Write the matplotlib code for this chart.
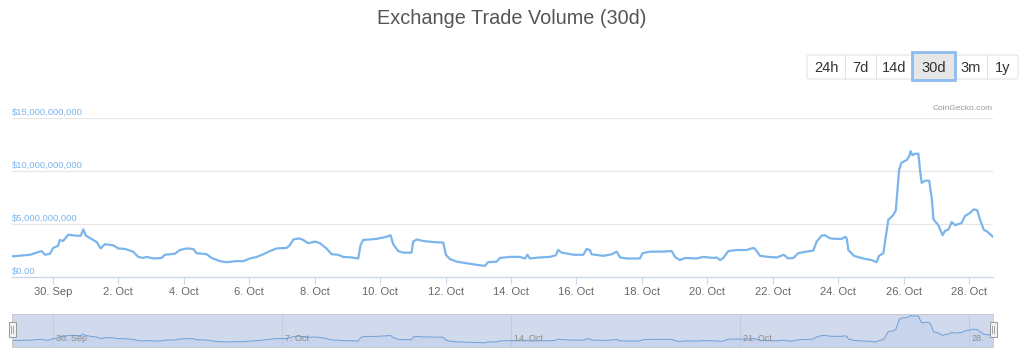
import matplotlib
matplotlib.use('Agg')
import matplotlib.pyplot as plt
from matplotlib.patches import Rectangle, FancyBboxPatch

plt.rcParams['font.family'] = ['Liberation Sans', 'DejaVu Sans']

# Données : jours depuis le 30 sept. 00:00, volume en milliards de $
days = [-1.25, -0.70, -0.35, -0.24, -0.09, 0.01, 0.16, 0.21, 0.31, 0.47, 0.72, 0.85, 0.93,
        1.01, 1.18, 1.34, 1.46, 1.59, 1.84, 2.00, 2.20, 2.45, 2.61, 2.76, 2.86, 3.09,
        3.32, 3.42, 3.73, 3.88, 4.09, 4.29, 4.39, 4.70, 4.85, 5.10, 5.31, 5.61, 5.82,
        6.02, 6.23, 6.43, 6.63, 6.84, 7.14, 7.24, 7.35, 7.53, 7.65, 7.80, 8.01, 8.16,
        8.36, 8.52, 8.72, 8.87, 9.13, 9.33, 9.40, 9.48, 9.89, 10.20, 10.32, 10.40,
        10.55, 10.71, 10.96, 11.01, 11.12, 11.32, 11.64, 11.93, 12.01, 12.13, 12.34,
        12.64, 12.95, 13.20, 13.30, 13.56, 13.66, 13.97, 14.27, 14.43, 14.50, 14.58,
        14.88, 15.19, 15.37, 15.44, 15.55, 15.92, 16.21, 16.31, 16.41, 16.46, 16.82,
        17.08, 17.23, 17.33, 17.53, 17.94, 18.02, 18.25, 18.65, 18.91, 19.01, 19.16,
        19.32, 19.67, 19.87, 20.20, 20.28, 20.39, 20.49, 20.64, 20.90, 21.20, 21.35,
        21.42, 21.51, 21.61, 21.86, 22.12, 22.34, 22.47, 22.63, 22.78, 23.03, 23.24,
        23.34, 23.49, 23.59, 23.75, 23.95, 24.10, 24.21, 24.26, 24.31, 24.48, 24.76,
        25.02, 25.17, 25.25, 25.38, 25.46, 25.53, 25.68, 25.76, 25.86, 25.93, 26.09,
        26.17, 26.21, 26.27, 26.34, 26.45, 26.50, 26.55, 26.65, 26.78, 26.86, 26.91,
        27.06, 27.19, 27.26, 27.37, 27.47, 27.57, 27.77, 27.87, 28.02, 28.15, 28.25,
        28.33, 28.45, 28.55, 28.73]
volume_bn = [1.95, 2.1, 2.45, 2.1, 2.2, 2.75, 2.95, 3.5, 3.4, 4.0, 3.9, 3.9, 4.5,
             3.9, 3.6, 3.3, 2.7, 3.1, 3.0, 2.7, 2.65, 2.4, 1.9, 1.8, 1.9, 1.75,
             1.8, 2.1, 2.2, 2.55, 2.7, 2.65, 2.25, 2.15, 1.8, 1.5, 1.4, 1.5, 1.5,
             1.75, 1.9, 2.15, 2.45, 2.7, 2.75, 3.0, 3.55, 3.65, 3.5, 3.2, 3.35, 3.2,
             2.7, 2.15, 2.1, 1.9, 1.85, 1.75, 3.0, 3.5, 3.6, 3.8, 3.95, 3.1,
             2.45, 2.3, 2.3, 3.35, 3.55, 3.4, 3.3, 3.25, 2.1, 1.7, 1.45,
             1.3, 1.15, 1.05, 1.4, 1.45, 1.8, 1.9, 1.9, 1.75, 2.1, 1.75,
             1.85, 1.9, 2.05, 2.55, 2.3, 2.1, 2.1, 2.65, 2.55, 2.15, 2.0,
             2.15, 2.4, 1.85, 1.75, 1.75, 2.25, 2.4, 2.4, 2.45, 1.9, 1.6,
             1.8, 1.75, 1.9, 1.8, 1.85, 1.6, 1.8, 2.45, 2.55, 2.55, 2.7,
             2.75, 2.45, 2.0, 1.9, 1.85, 2.1, 1.75, 1.8, 2.25, 2.4, 2.5,
             3.35, 3.9, 3.95, 3.65, 3.6, 3.6, 3.8, 3.65, 2.55, 2.0, 1.75,
             1.6, 1.4, 2.0, 2.25, 3.95, 5.4, 5.85, 6.3, 10.1, 10.8, 11.05,
             11.4, 11.9, 11.5, 11.65, 11.65, 10.1, 8.9, 9.1, 9.1, 7.4, 5.45,
             4.9, 3.95, 4.35, 4.5, 5.2, 4.9, 5.1, 5.75, 6.05, 6.4, 6.3,
             5.45, 4.45, 4.3, 3.8]

tick_days = [0, 2, 4, 6, 8, 10, 12, 14, 16, 18, 20, 22, 24, 26, 28]
tick_labels = ['30. Sep', '2. Oct', '4. Oct', '6. Oct', '8. Oct', '10. Oct', '12. Oct',
               '14. Oct', '16. Oct', '18. Oct', '20. Oct', '22. Oct', '24. Oct',
               '26. Oct', '28. Oct']
y_ticks = [0, 5, 10, 15]
y_labels = ['$0.00', '$5,000,000,000', '$10,000,000,000', '$15,000,000,000']
nav_days = [0, 7, 14, 21, 28]
nav_labels = ['30. Sep', '7. Oct', '14. Oct', '21. Oct', '28.']
buttons = ['24h', '7d', '14d', '30d', '3m', '1y']
selected = '30d'

W, H = 1024, 361
fig = plt.figure(figsize=(W / 100, H / 100), dpi=100)


def fx(px):
    return px / W


def fy(py):
    return 1 - py / H


x_min, x_max = -1.25, 28.73
line_col = '#7cb5ec'

# Graphique principal
ax = fig.add_axes([fx(12), fy(277), fx(993) - fx(12), fy(118.3) - fy(277)])
ax.plot(days, volume_bn, color=line_col, lw=1.6, solid_joinstyle='round')
ax.set_xlim(x_min, x_max)
ax.set_ylim(0, 15)
for v in y_ticks[1:]:
    ax.axhline(v, color='#e6e6e6', lw=0.8, zorder=0)
for s in ['top', 'right', 'left']:
    ax.spines[s].set_visible(False)
ax.spines['bottom'].set_color('#ccd6eb')
ax.spines['bottom'].set_linewidth(1)
ax.set_yticks([])
ax.set_xticks(tick_days)
ax.set_xticklabels(tick_labels, fontsize=8, color='#666666')
ax.tick_params(axis='x', length=5, color='#ccd6eb', pad=2)
for v, lab in zip(y_ticks, y_labels):
    ax.text(0, v + 0.12, lab, transform=ax.get_yaxis_transform(), fontsize=6.8,
            color=line_col, ha='left', va='bottom')
ax.text(1, 1.04, 'CoinGecko.com', transform=ax.transAxes, fontsize=6, color='#999999',
        ha='right', va='bottom')

# Titre
fig.text(0.5, fy(19), 'Exchange Trade Volume (30d)', ha='center', va='center',
         fontsize=14.3, color='#555555')

# Boutons de période
edges = [807, 845, 876, 912, 955, 987, 1018]
fig.patches.append(FancyBboxPatch((fx(807), fy(79)), fx(1018) - fx(807), fy(55) - fy(79),
                                  boxstyle='round,pad=0,rounding_size=0.004',
                                  transform=fig.transFigure, fc='white', ec='#e3e3e3', lw=0.8))
for i, lab in enumerate(buttons):
    x0, x1 = edges[i], edges[i + 1]
    if i > 0:
        fig.add_artist(plt.Line2D([fx(x0), fx(x0)], [fy(79), fy(55)], color='#e3e3e3',
                                  lw=0.8, transform=fig.transFigure))
    if lab == selected:
        fig.patches.append(Rectangle((fx(x0), fy(80)), fx(x1) - fx(x0), fy(52) - fy(80),
                                     transform=fig.transFigure, fc='#e6e6e6',
                                     ec='#8dbbee', lw=2, zorder=3))
    fig.text(fx((x0 + x1) / 2), fy(68), lab, ha='center', va='center', fontsize=10.5,
             color='#333333', zorder=4)

# Navigateur
nav = fig.add_axes([fx(12), fy(347), fx(993) - fx(12), fy(314) - fy(347)])
nav.set_facecolor('#d1daed')
nav.plot(days, volume_bn, color='#6f9fd8', lw=0.7)
nav.fill_between(days, volume_bn, -1, color='#b8cbe8', alpha=0.4, lw=0)
nav.set_xlim(x_min, x_max)
nav.set_ylim(-0.6, 12.4)
nav.set_xticks([])
nav.set_yticks([])
for s in nav.spines.values():
    s.set_color('#c8c8c8')
    s.set_linewidth(0.6)
for d, lab in zip(nav_days, nav_labels):
    nav.axvline(d, color='#c0c8da', lw=0.6, zorder=0)
    nav.text(d + 0.08, 0.12, lab, transform=nav.get_xaxis_transform(), fontsize=6.5,
             color='#8c8c8c', ha='left', va='bottom')

# Poignées
for hx in [12, 993]:
    fig.patches.append(Rectangle((fx(hx - 3.5), fy(337)), fx(7), fy(322) - fy(337),
                                 transform=fig.transFigure, fc='#f2f2f2', ec='#999999',
                                 lw=0.7, zorder=5))
    for dx in [-1, 1]:
        fig.add_artist(plt.Line2D([fx(hx + dx), fx(hx + dx)], [fy(333), fy(326)],
                                  color='#999999', lw=0.6, transform=fig.transFigure,
                                  zorder=6))

fig.savefig('out.png', dpi=100)
